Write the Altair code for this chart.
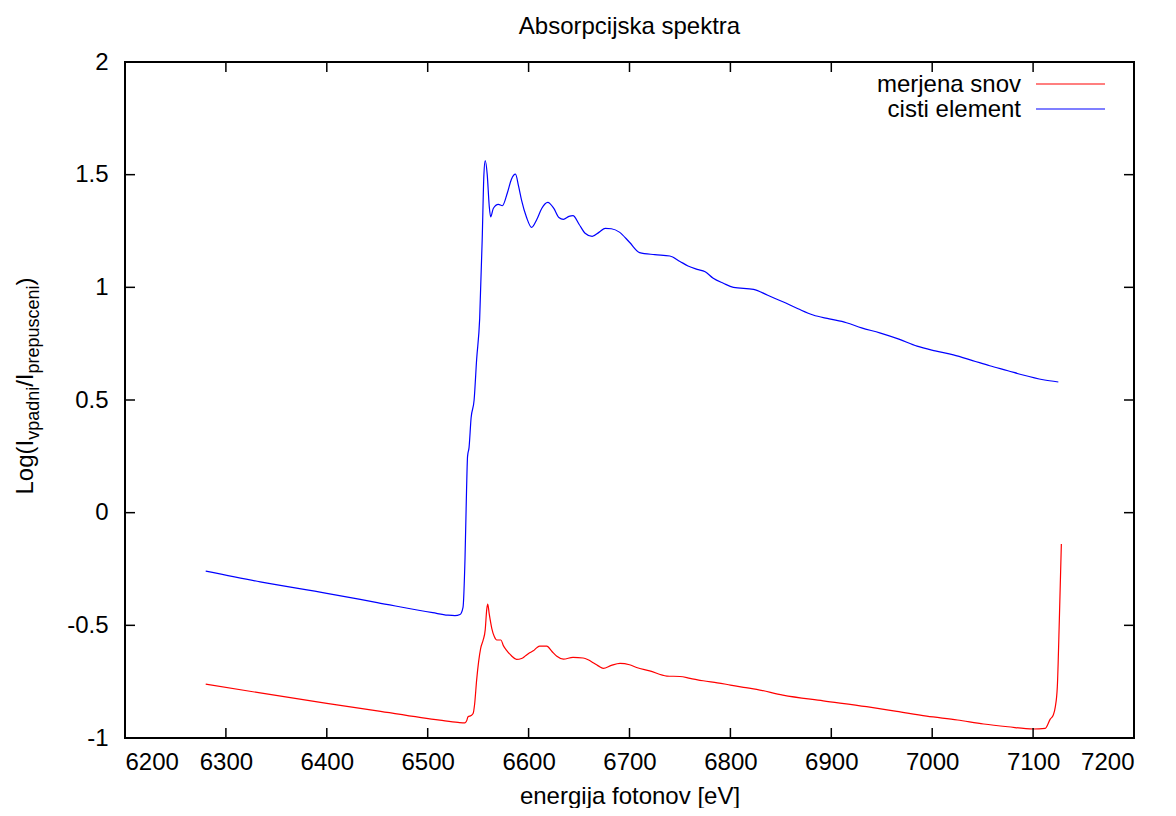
import altair as alt
import pandas as pd

# ---------------- data ----------------
series_names = ["merjena snov", "cisti element"]
series_colors = ["#ff0000", "#0000ff"]

energy_red = [6280, 6334, 6400, 6450, 6512, 6530, 6537, 6538.5, 6540, 6543, 6545,
              6546.5, 6548.5, 6550.5, 6552.5, 6555, 6557, 6558.5, 6559.5, 6561,
              6563.5, 6566, 6568.5, 6572.6, 6575, 6578, 6583, 6588, 6593, 6597,
              6601, 6604.6, 6608, 6611, 6618, 6623, 6628, 6634.5, 6644, 6654,
              6659, 6664, 6669, 6674, 6682, 6690.6, 6700, 6707, 6720, 6737, 6750,
              6760, 6773, 6787, 6800, 6813, 6826, 6852, 6892, 6935, 6965, 6994.5,
              7025, 7051, 7075, 7100, 7112, 7117, 7120, 7122, 7124, 7126, 7128]
absorb_red = [-0.761, -0.8, -0.846, -0.880, -0.921, -0.931, -0.933, -0.925, -0.906,
              -0.9, -0.891, -0.85, -0.743, -0.66, -0.602, -0.565, -0.52, -0.43,
              -0.406, -0.45, -0.513, -0.55, -0.565, -0.565, -0.59, -0.61, -0.635,
              -0.651, -0.647, -0.635, -0.622, -0.613, -0.6, -0.592, -0.592, -0.615,
              -0.637, -0.65, -0.642, -0.645, -0.653, -0.666, -0.68, -0.691, -0.678,
              -0.669, -0.675, -0.687, -0.702, -0.725, -0.727, -0.735, -0.746, -0.755,
              -0.765, -0.775, -0.784, -0.81, -0.835, -0.861, -0.882, -0.903, -0.92,
              -0.938, -0.95, -0.96, -0.957, -0.916, -0.898, -0.862, -0.773, -0.477,
              -0.139]

energy_blue = [6280, 6334, 6400, 6450, 6505, 6520, 6527, 6532, 6535, 6537, 6538.5,
               6539.5, 6541, 6543, 6546, 6548.5, 6551.5, 6554, 6555.7, 6557, 6559,
               6561, 6562.4, 6565, 6570, 6574, 6579, 6583, 6587, 6590, 6593, 6598,
               6603, 6608, 6613, 6619, 6625, 6630, 6634.5, 6640, 6644, 6650, 6656,
               6663, 6670, 6676, 6682, 6690, 6700, 6710, 6725, 6740, 6750, 6758,
               6767, 6775, 6783, 6793, 6803, 6823, 6837, 6852, 6867, 6882, 6898,
               6915, 6930, 6948, 6967, 6985, 7003, 7021, 7040, 7057, 7075, 7090,
               7110, 7125]
absorb_blue = [-0.259, -0.307, -0.358, -0.399, -0.444, -0.455, -0.457, -0.452, -0.42,
               -0.2, 0.1, 0.25, 0.29, 0.42, 0.5, 0.68, 0.86, 1.21, 1.5, 1.562, 1.5,
               1.36, 1.313, 1.35, 1.368, 1.362, 1.42, 1.48, 1.502, 1.45, 1.387, 1.31,
               1.266, 1.3, 1.35, 1.377, 1.35, 1.31, 1.302, 1.315, 1.318, 1.28, 1.24,
               1.226, 1.245, 1.262, 1.26, 1.245, 1.2, 1.154, 1.145, 1.139, 1.115,
               1.095, 1.08, 1.069, 1.04, 1.018, 1.0, 0.991, 0.965, 0.936, 0.905,
               0.877, 0.86, 0.843, 0.82, 0.798, 0.77, 0.739, 0.718, 0.70, 0.675,
               0.652, 0.63, 0.611, 0.59, 0.58]

x_ticks = [6200, 6300, 6400, 6500, 6600, 6700, 6800, 6900, 7000, 7100, 7200]
y_ticks = [-1, -0.5, 0, 0.5, 1, 1.5, 2]

# ---------------- layout ----------------
W, H = 1009, 676
FONT = "Liberation Sans"
FS = 24
SUB = 18
TICK = 10

df = pd.concat([
    pd.DataFrame({"E": energy_red, "A": absorb_red, "s": series_names[0], "o": range(len(energy_red))}),
    pd.DataFrame({"E": energy_blue, "A": absorb_blue, "s": series_names[1], "o": range(len(energy_blue))}),
])

xscale = alt.Scale(domain=[6200, 7200], nice=False, zero=False)
yscale = alt.Scale(domain=[-1, 2], nice=False, zero=False)
cscale = alt.Scale(domain=series_names, range=series_colors)

lines = alt.Chart(df).mark_line(strokeWidth=1.2, interpolate="monotone").encode(
    x=alt.X("E:Q", scale=xscale,
            axis=alt.Axis(values=x_ticks, title="energija fotonov [eV]",
                          labelExpr="datum.value + ''", ticks=False, tickSize=0,
                          domain=False, grid=False, labelPadding=12,
                          titlePadding=10,
                          labelFont=FONT, labelFontSize=FS, labelColor="black",
                          titleFont=FONT, titleFontSize=FS, titleColor="black",
                          titleFontWeight="normal")),
    y=alt.Y("A:Q", scale=yscale,
            axis=alt.Axis(values=y_ticks, title=None,
                          labelExpr="datum.value + ''", ticks=False, tickSize=0,
                          domain=False, grid=False, labelPadding=17,
                          labelFont=FONT, labelFontSize=FS, labelColor="black")),
    color=alt.Color("s:N", scale=cscale, legend=None),
    detail="s:N",
    order="o:Q",
)

xt = pd.DataFrame({"E": x_ticks})
yt = pd.DataFrame({"A": y_ticks})
tick_style = dict(color="black", strokeWidth=1.5)
ticks_bottom = alt.Chart(xt).mark_rule(**tick_style).encode(
    x=alt.X("E:Q", scale=xscale), y=alt.value(H), y2=alt.value(H - TICK))
ticks_top = alt.Chart(xt).mark_rule(**tick_style).encode(
    x=alt.X("E:Q", scale=xscale), y=alt.value(0), y2=alt.value(TICK))
ticks_left = alt.Chart(yt).mark_rule(**tick_style).encode(
    y=alt.Y("A:Q", scale=yscale), x=alt.value(0), x2=alt.value(TICK))
ticks_right = alt.Chart(yt).mark_rule(**tick_style).encode(
    y=alt.Y("A:Q", scale=yscale), x=alt.value(W), x2=alt.value(W - TICK))

# ---------------- key (gnuplot style: label left of sample) ----------------
key_layers = []
for i, (name, col) in enumerate(zip(series_names, series_colors)):
    kd = pd.DataFrame({"label": [name]})
    key_layers.append(alt.Chart(kd).mark_text(
        align="right", baseline="alphabetic", fontSize=FS, font=FONT, color="black"
    ).encode(x=alt.value(896), y=alt.value(30 + 25 * i), text="label:N"))
    key_layers.append(alt.Chart(kd).mark_rule(color=col, strokeWidth=1.2).encode(
        x=alt.value(911), x2=alt.value(980), y=alt.value(22 + 25 * i)))

# ---------------- y title with subscripts ----------------
adv = {"L": 556, "o": 556, "g": 556, "(": 333, ")": 333, "I": 278, "/": 278,
       "v": 500, "p": 556, "a": 556, "d": 556, "n": 556, "i": 222, "r": 333,
       "e": 556, "u": 556, "s": 500, "c": 500}
pieces = [("Log(I", False), ("vpadni", True), ("/I", False),
          ("prepusceni", True), (")", False)]
total = sum(sum(adv[c] for c in t) / 1000 * (SUB if sub else FS) for t, sub in pieces)
pos = 324 + total / 2
ytitle_layers = []
for t, sub in pieces:
    size = SUB if sub else FS
    td = pd.DataFrame({"t": [t]})
    ytitle_layers.append(alt.Chart(td).mark_text(
        align="left", baseline="alphabetic", angle=270, fontSize=size, font=FONT,
        color="black"
    ).encode(x=alt.value(-92 + (6 if sub else 0)), y=alt.value(pos), text="t:N"))
    pos -= sum(adv[c] for c in t) / 1000 * size

chart = alt.layer(
    lines, ticks_bottom, ticks_top, ticks_left, ticks_right,
    *key_layers, *ytitle_layers
).properties(
    width=W, height=H,
    title=alt.TitleParams("Absorpcijska spektra", fontSize=FS, fontWeight="normal",
                          font=FONT, color="black", anchor="middle", offset=11),
    autosize=alt.AutoSizeParams(type="none"),
    padding={"left": 117, "top": 54, "right": 34, "bottom": 70},
    background="white",
).configure_view(
    stroke="black", strokeWidth=2
)

chart.save("out.html", embed_options={"renderer": "svg", "actions": False})
